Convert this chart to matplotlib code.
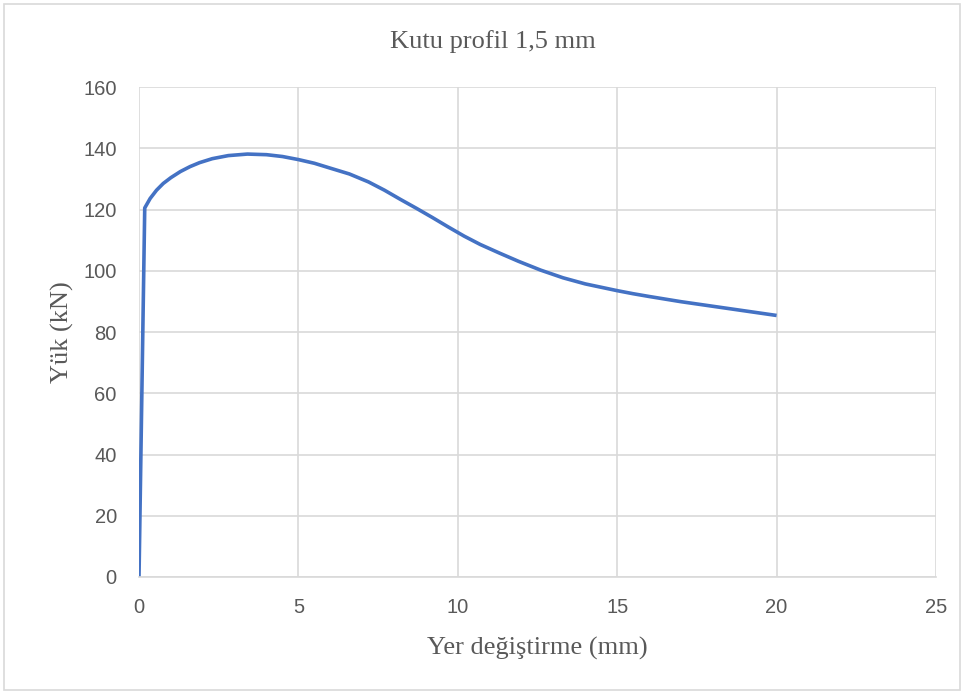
import matplotlib
matplotlib.use("Agg")
import matplotlib.pyplot as plt
from matplotlib.patches import Rectangle

# Data
displacement = [0.0, 0.18, 0.35, 0.55, 0.76, 1.0, 1.3, 1.6, 1.9, 2.3, 2.8, 3.4, 4.0,
                4.5, 5.0, 5.5, 6.0, 6.6, 7.2, 7.7, 8.2, 8.7, 9.2, 9.7, 10.2, 10.7,
                11.3, 11.9, 12.6, 13.3, 14.0, 14.5, 15.0, 15.5, 16.0, 17.0, 18.0,
                19.0, 20.0]
load = [0.0, 120.5, 123.6, 126.3, 128.5, 130.4, 132.4, 134.0, 135.3, 136.6, 137.6,
        138.1, 137.9, 137.3, 136.3, 135.1, 133.5, 131.6, 129.0, 126.3, 123.3,
        120.4, 117.4, 114.3, 111.3, 108.6, 105.8, 103.1, 100.2, 97.7, 95.7, 94.6,
        93.5, 92.5, 91.6, 89.9, 88.4, 86.9, 85.4]
x_ticks = [0, 5, 10, 15, 20, 25]
y_ticks = [0, 20, 40, 60, 80, 100, 120, 140, 160]
title = "Kutu profil 1,5 mm"
xlabel = "Yer değiştirme (mm)"
ylabel = "Yük (kN)"

fig = plt.figure(figsize=(9.66, 6.94), dpi=100)
fig.patches.append(Rectangle((0.004, 0.006), 0.99, 0.988, transform=fig.transFigure,
                             fill=False, edgecolor="#d9d9d9", linewidth=1.2))
ax = fig.add_axes([139/966, 1-577/694, (936-139)/966, (577-87)/694])

ax.plot(displacement, load, color="#4472C4", linewidth=2.6,
        solid_capstyle="butt", solid_joinstyle="round")

ax.set_xlim(0, 25)
ax.set_ylim(0, 160)
ax.set_xticks(x_ticks)
ax.set_yticks(y_ticks)
ax.grid(True, color="#d9d9d9", linewidth=1.2)
ax.set_axisbelow(True)
for s in ["top", "right", "left"]:
    ax.spines[s].set_visible(False)
ax.spines["bottom"].set_color("#d9d9d9")
ax.spines["bottom"].set_linewidth(1.2)
ax.tick_params(axis="y", length=0, labelsize=14.5, labelcolor="#595959", pad=16)
ax.tick_params(axis="x", length=0, labelsize=14.5, labelcolor="#595959", pad=15)
for lab in ax.get_xticklabels() + ax.get_yticklabels():
    lab.set_fontfamily("Liberation Sans")

serif = "Liberation Serif"
fig.text(493/966, 1-42/694, title, ha="center", va="center", fontsize=19,
         family=serif, color="#595959")
fig.text(537/966, 1-648/694, xlabel, ha="center", va="center", fontsize=19,
         family=serif, color="#595959")
fig.text(62/966, 1-332/694, ylabel, ha="center", va="center", fontsize=19,
         family=serif, color="#595959", rotation=90)

fig.savefig("out.png", dpi=100)
